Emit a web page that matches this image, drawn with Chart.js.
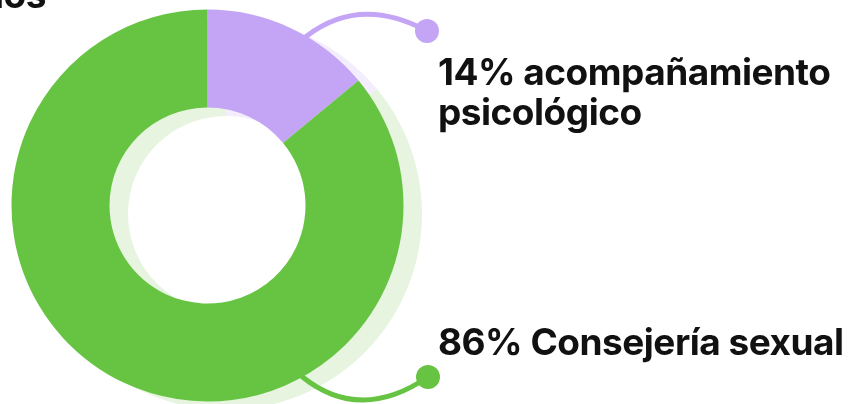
<!DOCTYPE html>
<html>
<head>
<meta charset="utf-8">
<script src="https://cdn.jsdelivr.net/npm/chart.js@4.4.1/dist/chart.umd.min.js"></script>
<style>
  html, body { margin: 0; padding: 0; background: #fff; }
  #wrap { position: relative; width: 855px; height: 404px; overflow: hidden; font-family: Inter, "Noto Sans", sans-serif; }
  #c { position: absolute; left: 0; top: 0; }
  .lbl { position: absolute; font-weight: 700; font-size: 37px; line-height: 40px; color: #111; letter-spacing: -0.5px; }
</style>
</head>
<body>
<div id="wrap">
  <canvas id="c" width="855" height="404"></canvas>
  <div class="lbl" id="title" style="right:809px; top:-25px; white-space:nowrap;"></div>
  <div class="lbl" id="l0" style="left:438px; top:52px; width:417px;"></div>
  <div class="lbl" id="l1" style="left:438px; top:322px; width:417px; white-space:nowrap;"></div>
</div>
<script>
const titleText = "Servicios";
const categories = ["acompañamiento psicológico", "Consejería sexual"];
const values = [14, 86];
const colors = ["#C4A5F5", "#67C443"];
const shadowColors = ["#F3EDFD", "#E7F4E0"];

document.getElementById('title').textContent = titleText;
document.getElementById('l0').textContent = values[0] + "% " + categories[0];
document.getElementById('l1').textContent = values[1] + "% " + categories[1];

const shadowAndConnectors = {
  id: 'shadowAndConnectors',
  beforeDatasetsDraw(chart) {
    const ctx = chart.ctx;
    const arcs = chart.getDatasetMeta(0).data;
    // shadow doughnut offset behind
    ctx.save();
    ctx.translate(18.5, 8.5);
    arcs.forEach((a, i) => {
      const p = a.getProps(['x','y','startAngle','endAngle','innerRadius','outerRadius'], true);
      ctx.beginPath();
      ctx.arc(p.x, p.y, p.outerRadius, p.startAngle, p.endAngle);
      ctx.arc(p.x, p.y, p.innerRadius, p.endAngle, p.startAngle, true);
      ctx.closePath();
      ctx.fillStyle = shadowColors[i];
      ctx.fill();
    });
    ctx.restore();

    // connectors
    const p0 = arcs[0].getProps(['x','y','outerRadius'], true);
    const cx = p0.x, cy = p0.y, R = p0.outerRadius;
    const pt = (deg) => {
      const r = deg * Math.PI / 180;
      return [cx + R * Math.sin(r), cy - R * Math.cos(r)];
    };
    const conns = [
      { from: pt(30.3), ctrl: [cx + 152.5, cy - 210.5], to: [cx + 219.5, cy - 174.5], color: colors[0] },
      { from: pt(151), ctrl: [cx + 152.5, cy + 217.5], to: [cx + 220.5, cy + 171.5], color: colors[1] }
    ];
    conns.forEach(c => {
      ctx.save();
      ctx.strokeStyle = c.color;
      ctx.lineWidth = 5;
      ctx.lineCap = 'round';
      ctx.beginPath();
      ctx.moveTo(c.from[0], c.from[1]);
      ctx.quadraticCurveTo(c.ctrl[0], c.ctrl[1], c.to[0], c.to[1]);
      ctx.stroke();
      ctx.fillStyle = c.color;
      ctx.beginPath();
      ctx.arc(c.to[0], c.to[1], 12, 0, Math.PI * 2);
      ctx.fill();
      ctx.restore();
    });
  }
};

new Chart(document.getElementById('c'), {
  type: 'doughnut',
  data: {
    labels: categories,
    datasets: [{
      data: values,
      backgroundColor: colors,
      borderWidth: 0,
      hoverOffset: 0
    }]
  },
  options: {
    responsive: false,
    animation: false,
    cutout: '50%',
    layout: { padding: { left: 11.5, top: 9.5, right: 451.5, bottom: 2.5 } },
    plugins: { legend: { display: false }, tooltip: { enabled: false } },
    events: []
  },
  plugins: [shadowAndConnectors]
});
</script>
</body>
</html>
